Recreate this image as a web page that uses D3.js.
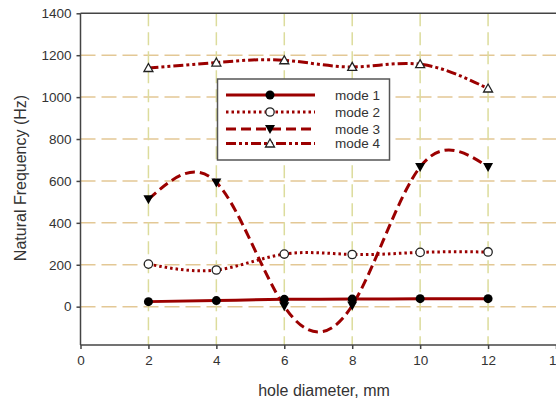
<!DOCTYPE html>
<html>
<head>
<meta charset="utf-8">
<script src="https://cdn.jsdelivr.net/npm/d3@7"></script>
<style>
  body { margin: 0; background: #fff; }
  svg { display: block; font-family: "Liberation Sans", Arial, sans-serif; }
</style>
</head>
<body>
<svg id="chart" width="556" height="405"></svg>
<script>
// values
var holeDiameter = [2, 4, 6, 8, 10, 12];
var mode1 = [24, 29, 35, 36, 38, 38];
var mode2 = [203, 175, 251, 249, 259, 261];
var mode3 = [512, 593, 2, 6, 667, 667];
var mode4 = [1139, 1165, 1176, 1144, 1157, 1041];
var xTicks = [0, 2, 4, 6, 8, 10, 12, 14];
var yTicks = [0, 200, 400, 600, 800, 1000, 1200, 1400];
var seriesNames = ["mode 1", "mode 2", "mode 3", "mode 4"];

var svg = d3.select("#chart");
var plotLeft = 80.5, plotRight = 556, plotTop = 13.3, plotBottom = 345;
var lineColor = "#9b0000";

var x = d3.scaleLinear().domain([0, 14]).range([plotLeft, plotRight]);
var y = d3.scaleLinear().domain([-183, 1400]).range([plotBottom, plotTop]);

// grid
svg.append("g").selectAll("line")
  .data(yTicks.filter(function(d) { return d < 1400; }))
  .enter().append("line")
  .attr("x1", plotLeft).attr("x2", plotRight)
  .attr("y1", function(d) { return y(d); }).attr("y2", function(d) { return y(d); })
  .attr("stroke", "#e3c895").attr("stroke-width", 1.5)
  .attr("stroke-dasharray", "15,6");

svg.append("g").selectAll("line")
  .data(holeDiameter)
  .enter().append("line")
  .attr("x1", function(d) { return x(d); }).attr("x2", function(d) { return x(d); })
  .attr("y1", plotTop).attr("y2", plotBottom)
  .attr("stroke", "#dcdc9c").attr("stroke-width", 1.5)
  .attr("stroke-dasharray", "13,6");

// axes
var xAxis = svg.append("g")
  .attr("transform", "translate(0," + plotBottom + ")")
  .call(d3.axisBottom(x).tickValues(xTicks).tickSize(4).tickPadding(6).tickFormat(d3.format("d")));
var yAxis = svg.append("g")
  .attr("transform", "translate(" + plotLeft + ",0)")
  .call(d3.axisLeft(y).tickValues(yTicks).tickSize(4).tickPadding(5).tickFormat(d3.format("d")));
[xAxis, yAxis].forEach(function(a) {
  a.select(".domain").attr("stroke", "#444").attr("stroke-width", 1.5);
  a.selectAll(".tick line").attr("stroke", "#444").attr("stroke-width", 1.5);
  a.selectAll(".tick text").attr("fill", "#333").style("font-size", "13.5px")
    .style("font-family", "Liberation Sans, Arial, sans-serif");
});
yAxis.select(".domain").attr("d", "M0," + plotBottom + "V" + plotTop);
xAxis.select(".domain").attr("d", "M" + plotLeft + ",0H" + plotRight);
svg.append("line").attr("x1", plotLeft).attr("x2", plotRight).attr("y1", plotTop).attr("y2", plotTop)
  .attr("stroke", "#444").attr("stroke-width", 1.5);

svg.append("text")
  .attr("x", 324).attr("y", 396)
  .attr("text-anchor", "middle").attr("fill", "#333").style("font-size", "16px")
  .text("hole diameter, mm");
svg.append("text")
  .attr("transform", "translate(25.5,178) rotate(-90)")
  .attr("text-anchor", "middle").attr("fill", "#333").style("font-size", "16px")
  .text("Natural Frequency (Hz)");

// series
var dashes = ["none", "2.5,3", "10,5", "10,3,3,3,3,3"];
var allSeries = [mode1, mode2, mode3, mode4];
var line = d3.line()
  .x(function(d, i) { return x(holeDiameter[i]); })
  .y(function(d) { return y(d); })
  .curve(d3.curveNatural);

var symbolDraw = [
  function(g) { g.append("circle").attr("r", 4.5).attr("fill", "#000"); },
  function(g) { g.append("circle").attr("r", 4.2).attr("fill", "#fff").attr("stroke", "#222").attr("stroke-width", 1.3); },
  function(g) { g.append("path").attr("d", "M-5,-4L5,-4L0,5Z").attr("fill", "#000"); },
  function(g) { g.append("path").attr("d", "M-4.5,3.5L4.5,3.5L0,-4.5Z").attr("fill", "#fff").attr("stroke", "#222").attr("stroke-width", 1.3); }
];

[3, 2, 1, 0].forEach(function(k) {
  svg.append("path")
    .datum(allSeries[k])
    .attr("d", line)
    .attr("fill", "none")
    .attr("stroke", lineColor)
    .attr("stroke-width", 3)
    .attr("stroke-dasharray", dashes[k]);
});
[3, 2, 1, 0].forEach(function(k) {
  allSeries[k].forEach(function(v, i) {
    var g = svg.append("g").attr("transform", "translate(" + x(holeDiameter[i]) + "," + y(v) + ")");
    symbolDraw[k](g);
  });
});

// legend
var legend = svg.append("g");
legend.append("rect")
  .attr("x", 217.5).attr("y", 79).attr("width", 172).attr("height", 81)
  .attr("fill", "#fff").attr("stroke", "#555").attr("stroke-width", 1.5);
var rowY = [95, 112, 129, 143.5];
seriesNames.forEach(function(name, k) {
  legend.append("line")
    .attr("x1", 226).attr("x2", 315).attr("y1", rowY[k]).attr("y2", rowY[k])
    .attr("stroke", lineColor).attr("stroke-width", 3)
    .attr("stroke-dasharray", dashes[k]);
  var g = legend.append("g").attr("transform", "translate(270," + rowY[k] + ")");
  symbolDraw[k](g);
  legend.append("text")
    .attr("x", 335).attr("y", rowY[k] + 4.5)
    .attr("fill", "#333").style("font-size", "13.5px")
    .text(name);
});
</script>
</body>
</html>
